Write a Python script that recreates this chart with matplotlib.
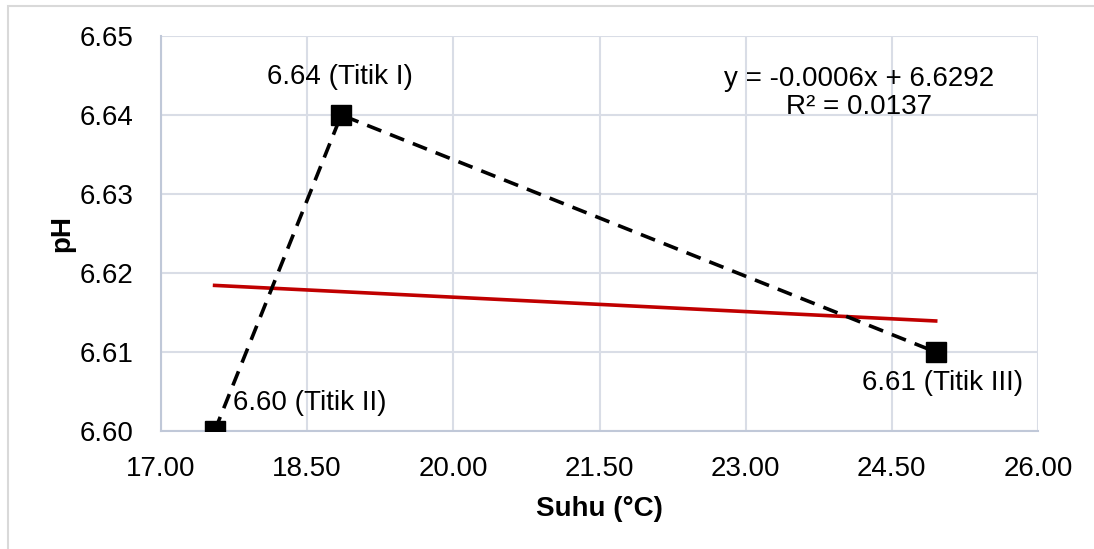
import matplotlib
matplotlib.use("Agg")
import matplotlib.pyplot as plt
import numpy as np
from matplotlib.patches import Rectangle

plt.rcParams['font.family'] = ['Liberation Sans', 'DejaVu Sans']

# Data
suhu = [17.55, 18.85, 24.95]
ph = [6.60, 6.64, 6.61]
labels = ["6.60 (Titik II)", "6.64 (Titik I)", "6.61 (Titik III)"]
xticks = [17.00, 18.50, 20.00, 21.50, 23.00, 24.50, 26.00]
yticks = [6.60, 6.61, 6.62, 6.63, 6.64, 6.65]
eq_text = "y = -0.0006x + 6.6292\nR² = 0.0137"

FS = 20

fig = plt.figure(figsize=(10.94, 5.49), dpi=100)
ax = fig.add_axes([161/1094, 1-431/549, (1038-161)/1094, (431-36)/549])

# outer chart frame
fig.patches.append(Rectangle((8/1094, -0.1), 1.2, 1-6/549+0.1, transform=fig.transFigure,
                             fill=False, edgecolor='#d9d9d9', linewidth=1.5, zorder=0))

ax.set_xlim(17, 26)
ax.set_ylim(6.60, 6.65)
ax.set_xticks(xticks)
ax.set_yticks(yticks)
ax.set_xticklabels([f"{v:.2f}" for v in xticks], fontsize=FS)
ax.set_yticklabels([f"{v:.2f}" for v in yticks], fontsize=FS)
ax.tick_params(axis='y', length=0, pad=20)
ax.tick_params(axis='x', length=0, pad=18)
ax.grid(True, color='#d9dde6', linewidth=1.5)
ax.set_axisbelow(True)
for s in ['top', 'right']:
    ax.spines[s].set_visible(False)
for s in ['left', 'bottom']:
    ax.spines[s].set_color('#c0c8d8')
    ax.spines[s].set_linewidth(1.5)

# data series
ax.plot(suhu, ph, linestyle=(0, (4.2, 2.6)), color='black', linewidth=2.6,
        marker='s', markersize=14.5, markerfacecolor='black', markeredgecolor='black', zorder=3)

# linear trendline
coef = np.polyfit(suhu, ph, 1)
xt = np.array([min(suhu), max(suhu)])
ax.plot(xt, np.polyval(coef, xt), color='#c00000', linewidth=2.6, zorder=2)

# data labels
ax.annotate(labels[0], (suhu[0], ph[0]), xytext=(13, 20), textcoords='offset points',
            fontsize=FS, ha='left', va='center')
ax.annotate(labels[1], (suhu[1], ph[1]), xytext=(-1, 27), textcoords='offset points',
            fontsize=FS, ha='center', va='center')
ax.annotate(labels[2], (suhu[2], ph[2]), xytext=(5, -22), textcoords='offset points',
            fontsize=FS, ha='center', va='center')

# equation
ax.text(859/1094, 1-93/549, eq_text, transform=fig.transFigure, fontsize=FS,
        ha='center', va='center', multialignment='center', linespacing=1.15)

ax.set_xlabel("Suhu (°C)", fontsize=FS, fontweight='bold', labelpad=10)
ax.set_ylabel("pH", fontsize=FS, fontweight='bold', labelpad=3)

fig.savefig("out.png", dpi=100)
